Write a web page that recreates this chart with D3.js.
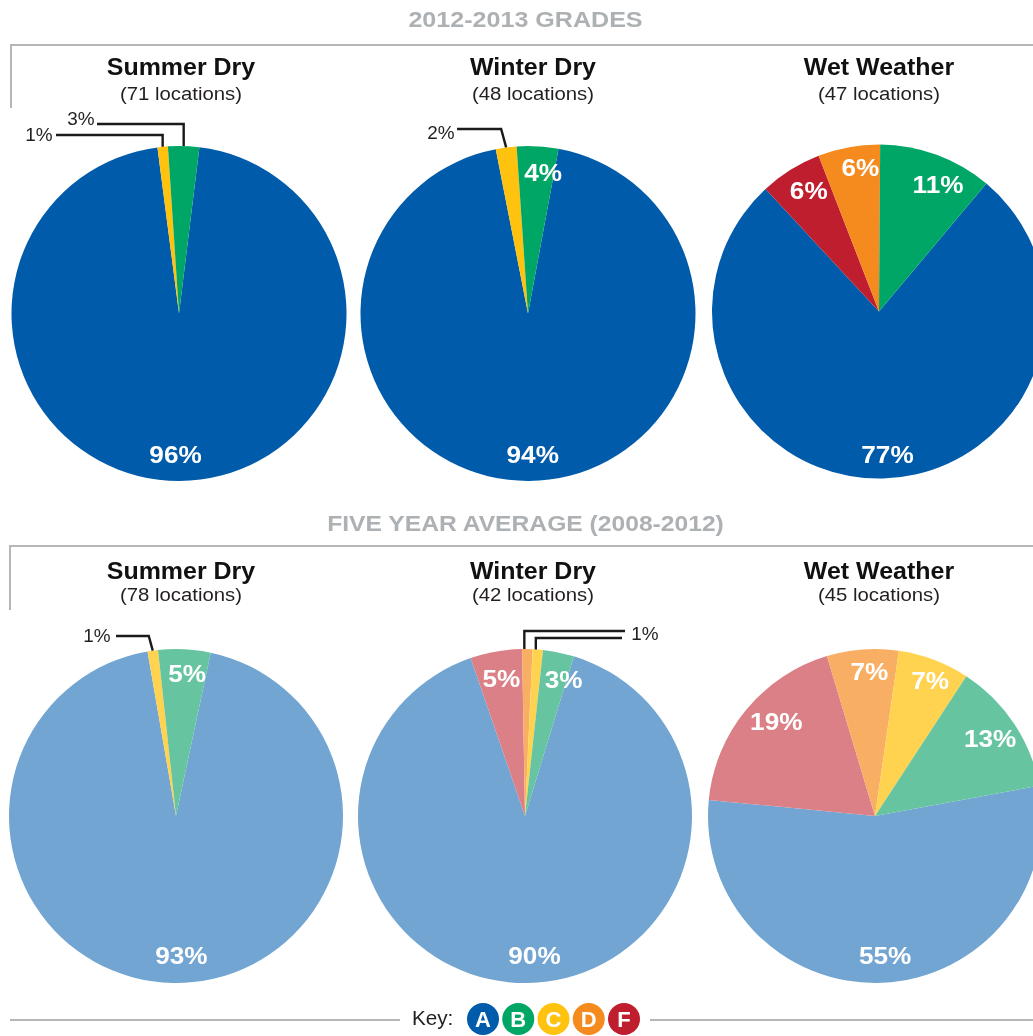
<!DOCTYPE html>
<html>
<head>
<meta charset="utf-8">
<script src="https://cdn.jsdelivr.net/npm/d3@7"></script>
<style>
  html, body { margin: 0; padding: 0; background: #fff; }
  svg { display: block; filter: blur(0.6px); }
  text { font-family: "Liberation Sans", Arial, sans-serif; }
</style>
</head>
<body>
<div id="chart"></div>
<script>
  // grades, in the order the slices run clockwise
  const grades = ["A", "F", "D", "C", "B"];
  const keyGrades = ["A", "B", "C", "D", "F"];

  const summerDry2013 = [96, 0, 0, 1, 3];
  const winterDry2013 = [94, 0, 0, 2, 4];
  const wetWeather2013 = [77, 6, 6, 0, 11];
  const summerDryAvg = [93, 0, 0, 1, 5];
  const winterDryAvg = [90, 5, 1, 1, 3];
  const wetWeatherAvg = [55, 19, 7, 7, 13];

  const pieTitles = ["Summer Dry", "Winter Dry", "Wet Weather"];
  const locations2013 = [71, 48, 47];
  const locationsAvg = [78, 42, 45];

  const solidColors = ["#005baa", "#be1e2d", "#f58b1f", "#ffc20e", "#00a665"];
  const paleColors = ["#72a5d1", "#da8086", "#f8ae63", "#ffd34f", "#66c5a0"];
  const keyColors = ["#005baa", "#00a665", "#ffc20e", "#f58b1f", "#be1e2d"];

  var width = 1033,
      height = 1036;

  var svg = d3.select("#chart").append("svg")
      .attr("width", width)
      .attr("height", height);

  const rad = Math.PI / 180;
  const frameColor = "#b4b7ba";

  // the type in the picture is a little wider than Liberation Sans
  function stretch(sel, k) {
    sel.each(function() {
      d3.select(this)
          .attr("textLength", this.getComputedTextLength() * k)
          .attr("lengthAdjust", "spacingAndGlyphs");
    });
  }

  function drawFrame(title, titleY, lineY, bottomY, left, k) {
    svg.append("path")
        .attr("d", `M${left},${bottomY}V${lineY}H${width}`)
        .attr("fill", "none")
        .attr("stroke", frameColor)
        .attr("stroke-width", 2);

    svg.append("text")
        .attr("x", 525.5)
        .attr("y", titleY)
        .attr("text-anchor", "middle")
        .attr("font-size", "22px")
        .attr("font-weight", "bold")
        .attr("fill", "#aeb1b4")
        .text(title)
        .call(stretch, k);
  }

  // nudges: label offset per slice, the labels do not sit exactly on the arc
  function drawPie(values, cx, cy, r, startDeg, colors, callouts, nudges) {
    var g = svg.append("g")
        .attr("transform", `translate(${cx},${cy})`);

    var pie = d3.pie()
        .sort(null)
        .startAngle(startDeg * rad)
        .endAngle(startDeg * rad + 2 * Math.PI);

    var slices = pie(values);
    var arc = d3.arc().innerRadius(0).outerRadius(r);
    var labelArc = d3.arc().innerRadius(r - 25).outerRadius(r - 25);
    var edgeArc = d3.arc().innerRadius(r).outerRadius(r);

    g.selectAll("path")
        .data(slices.filter(d => d.value > 0))
      .enter().append("path")
        .attr("d", arc)
        .attr("fill", d => colors[d.index]);

    // small slices get a leader line instead of a label inside
    var leaderIndex = callouts.map(d => d.slice);

    g.selectAll("text")
        .data(slices.filter(d => d.value > 0 && !leaderIndex.includes(d.index)))
      .enter().append("text")
        .attr("transform", d => {
          var p = labelArc.centroid(d),
              n = nudges[d.index] || [0, 0];
          return `translate(${p[0] + n[0]},${p[1] + n[1]})`;
        })
        .attr("dy", "0.36em")
        .attr("text-anchor", "middle")
        .attr("font-size", "24px")
        .attr("font-weight", "bold")
        .attr("fill", "#fff")
        .text(d => d.value + "%")
        .call(stretch, 1.09);

    callouts.forEach(c => {
      var p = edgeArc.centroid(slices[c.slice]);
      var elbow = p[0] + (c.lean || 0);
      svg.append("path")
          .attr("d", `M${cx + p[0] + (c.shift || 0)},${cy + p[1]}L${cx + elbow + (c.shift || 0)},${c.y}H${c.endX}`)
          .attr("fill", "none")
          .attr("stroke", "#1a1a1a")
          .attr("stroke-width", 2.4);
      if (c.noLabel) return;
      svg.append("text")
          .attr("x", c.labelX)
          .attr("y", c.labelY)
          .attr("dy", "0.36em")
          .attr("text-anchor", "middle")
          .attr("font-size", "17.5px")
          .attr("fill", "#231f20")
          .text(slices[c.slice].value + "%")
          .call(stretch, 1.08);
    });
  }

  function drawHeads(xs, titleY, subY, counts) {
    xs.forEach((x, i) => {
      svg.append("text")
          .attr("x", x)
          .attr("y", titleY)
          .attr("text-anchor", "middle")
          .attr("font-size", "24px")
          .attr("font-weight", "bold")
          .attr("fill", "#111")
          .text(pieTitles[i])
          .call(stretch, 1.04);

      svg.append("text")
          .attr("x", x)
          .attr("y", subY)
          .attr("text-anchor", "middle")
          .attr("font-size", "18px")
          .attr("fill", "#231f20")
          .text(`(${counts[i]} locations)`)
          .call(stretch, 1.13);
    });
  }

  drawFrame("2012-2013 GRADES", 27, 45, 108, 11, 1.14);
  drawFrame("FIVE YEAR AVERAGE (2008-2012)", 531, 546, 610, 10, 1.12);

  drawHeads([181, 533, 879], 75, 100, locations2013);
  drawHeads([181, 533, 879], 579, 601, locationsAvg);

  drawPie(summerDry2013, 179, 313.5, 167.5, 7, solidColors, [
    {slice: 3, y: 135, endX: 56, labelX: 39, labelY: 135},
    {slice: 4, y: 124, endX: 97, labelX: 81, labelY: 119}
  ], {0: [-4, -2]});
  drawPie(winterDry2013, 528, 313.5, 167.5, 10.5, solidColors, [
    {slice: 3, y: 129, endX: 457, labelX: 441, labelY: 133, lean: -5}
  ], {0: [4, -2], 4: [7, 1]});
  drawPie(wetWeather2013, 879, 311.5, 167, 40, solidColors, [],
    {0: [5, 1], 1: [5, -1], 2: [7, -4], 4: [10, 6]});

  drawPie(summerDryAvg, 176, 816, 167, 12, paleColors, [
    {slice: 3, y: 636, endX: 116, labelX: 97, labelY: 636, lean: -4}
  ], {0: [8, -3], 4: [4, -1]});
  drawPie(winterDryAvg, 525, 816, 167, 17, paleColors, [
    {slice: 2, y: 631, endX: 625, noLabel: true, shift: -3},
    {slice: 3, y: 638, endX: 622, labelX: 645, labelY: 634, shift: -2}
  ], {0: [7, -3], 1: [1, 2], 4: [10, 2]});
  drawPie(wetWeatherAvg, 875, 816, 167, 79.5, paleColors, [],
    {0: [4, -3], 1: [11, -5], 2: [5, -3], 3: [5, -3], 4: [-3, 1]});

  // key along the bottom edge
  var keyX = d3.scalePoint()
      .domain(keyGrades)
      .range([483, 624]);

  svg.append("path")
      .attr("d", `M10,1020H400M650,1020H${width}`)
      .attr("stroke", frameColor)
      .attr("stroke-width", 2);

  svg.append("text")
      .attr("x", 412)
      .attr("y", 1025)
      .attr("font-size", "19.5px")
      .attr("fill", "#231f20")
      .text("Key:")
      .call(stretch, 1.06);

  var key = svg.selectAll(".key")
      .data(keyGrades)
    .enter().append("g")
      .attr("class", "key")
      .attr("transform", d => `translate(${keyX(d)},1019)`);

  key.append("circle")
      .attr("r", 16)
      .attr("fill", (d, i) => keyColors[i]);

  key.append("text")
      .attr("dy", "0.36em")
      .attr("text-anchor", "middle")
      .attr("font-size", "22px")
      .attr("font-weight", "bold")
      .attr("fill", "#fff")
      .text(d => d);
</script>
</body>
</html>
